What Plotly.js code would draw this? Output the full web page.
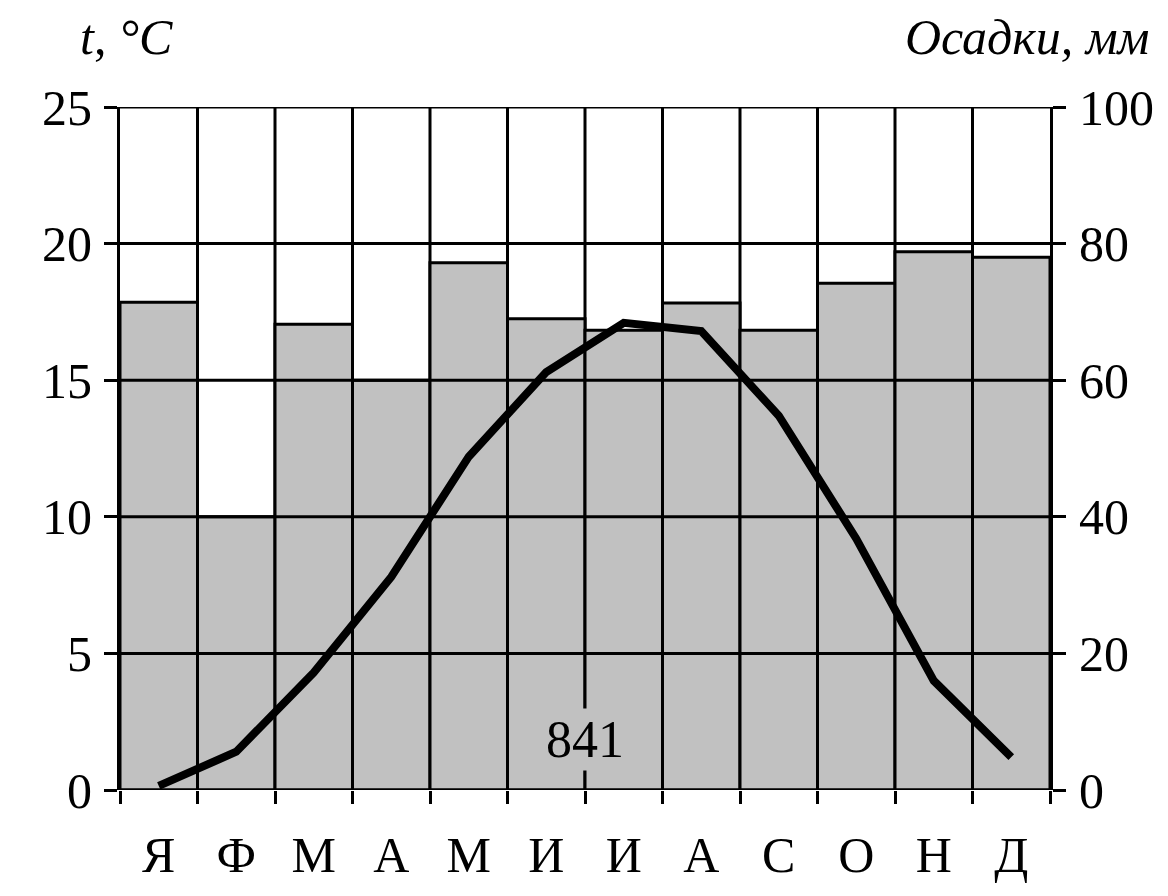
<!DOCTYPE html>
<html>
<head>
<meta charset="utf-8">
<script src="https://cdn.plot.ly/plotly-3.0.1.min.js"></script>
<style>
  html, body { margin: 0; padding: 0; background: #fff; }
  #graph { width: 1168px; height: 896px; }
</style>
</head>
<body>
<div id="graph"></div>
<script>
// Данные климатограммы
const months = ["Я", "Ф", "М", "А", "М", "И", "И", "А", "С", "О", "Н", "Д"];
const precipitation = [71.4, 40, 68.2, 60, 77.2, 69, 67.3, 71.3, 67.3, 74.2, 78.8, 78];
const temperature = [0.15, 1.4, 4.3, 7.8, 12.2, 15.3, 17.1, 16.8, 13.7, 9.2, 4.0, 1.2];
const tempTicks = [0, 5, 10, 15, 20, 25];
const precTicks = [0, 20, 40, 60, 80, 100];
const annualTotal = "841";

const FONT = "Liberation Serif, Times New Roman, serif";
const GREY = "#c1c1c1";

// Категории по индексу, чтобы одинаковые буквы не сливались
const xIdx = months.map((_, i) => i);

const bars = {
  type: "bar",
  x: xIdx,
  y: precipitation,
  yaxis: "y",
  marker: { color: GREY, line: { color: "#000", width: 3 } },
  hoverinfo: "y",
};

const line = {
  type: "scatter",
  mode: "lines",
  x: xIdx,
  y: temperature,
  yaxis: "y2",
  line: { color: "#000", width: 8 },
  hoverinfo: "y",
};

// пустой след, чтобы показать засечки на границах месяцев
const ticksTrace = {
  type: "scatter",
  x: [],
  y: [],
  xaxis: "x2",
  yaxis: "y",
  hoverinfo: "skip",
};

// горизонтальные линии сетки поверх столбиков
const gridShapes = tempTicks.map((t) => ({
  type: "line",
  xref: "paper",
  yref: "y2",
  x0: 0,
  x1: 1,
  y0: t,
  y1: t,
  layer: "above",
  line: { color: "#000", width: 3 },
}));

// вертикальные границы месяцев на всю высоту
const monthShapes = months.slice(1).map((_, i) => ({
  type: "line",
  xref: "x",
  yref: "paper",
  x0: i + 0.5,
  x1: i + 0.5,
  y0: 0,
  y1: 1,
  layer: "below",
  line: { color: "#000", width: 3 },
}));

const tickFont = { family: FONT, size: 50, color: "#000" };

const layout = {
  width: 1168,
  height: 896,
  margin: { l: 120, r: 118, t: 107, b: 106 },
  paper_bgcolor: "#fff",
  plot_bgcolor: "#fff",
  showlegend: false,
  bargap: 0,
  font: { family: FONT, color: "#000" },
  xaxis: {
    type: "linear",
    range: [-0.5, 11.5],
    tickmode: "array",
    tickvals: xIdx,
    ticktext: months,
    ticks: "",
    showgrid: false,
    zeroline: false,
    tickfont: tickFont,
    ticklabelstandoff: 31,
    fixedrange: true,
  },
  xaxis2: {
    overlaying: "x",
    range: [-0.5, 11.5],
    tickmode: "array",
    tickvals: months.map((_, i) => i - 0.5).concat([11.5]),
    showticklabels: false,
    ticks: "outside",
    ticklen: 13,
    tickwidth: 3,
    tickcolor: "#000",
    showgrid: false,
    zeroline: false,
  },
  yaxis: {
    side: "right",
    range: [0, 100],
    tickmode: "array",
    tickvals: precTicks,
    ticks: "outside",
    ticklen: 13,
    tickwidth: 3,
    tickcolor: "#000",
    showline: true,
    linecolor: "#000",
    linewidth: 3,
    showgrid: false,
    zeroline: false,
    tickfont: tickFont,
    ticklabelstandoff: 3,
    fixedrange: true,
  },
  yaxis2: {
    side: "left",
    overlaying: "y",
    range: [0, 25],
    tickmode: "array",
    tickvals: tempTicks,
    ticks: "outside",
    ticklen: 13,
    tickwidth: 3,
    tickcolor: "#000",
    showline: true,
    linecolor: "#000",
    linewidth: 3,
    showgrid: false,
    zeroline: false,
    tickfont: tickFont,
    ticklabelstandoff: 2,
    fixedrange: true,
  },
  shapes: gridShapes.concat(monthShapes),
  annotations: [
    {
      xref: "paper",
      yref: "paper",
      x: -0.045,
      y: 1.103,
      xanchor: "left",
      yanchor: "middle",
      showarrow: false,
      text: "<i>t</i>, <i>°C</i>",
      font: { family: FONT, size: 50, color: "#000" },
    },
    {
      xref: "paper",
      yref: "paper",
      x: 1.11,
      y: 1.103,
      xanchor: "right",
      yanchor: "middle",
      showarrow: false,
      text: "<i>Осадки, мм</i>",
      font: { family: FONT, size: 50, color: "#000" },
    },
    {
      xref: "x",
      yref: "paper",
      x: 5.5,
      y: 0.074,
      xanchor: "center",
      yanchor: "middle",
      showarrow: false,
      text: annualTotal,
      bgcolor: GREY,
      borderpad: 2,
      font: { family: FONT, size: 52, color: "#000" },
    },
  ],
};

Plotly.newPlot("graph", [bars, line, ticksTrace], layout, {
  staticPlot: true,
  displayModeBar: false,
});
</script>
</body>
</html>
